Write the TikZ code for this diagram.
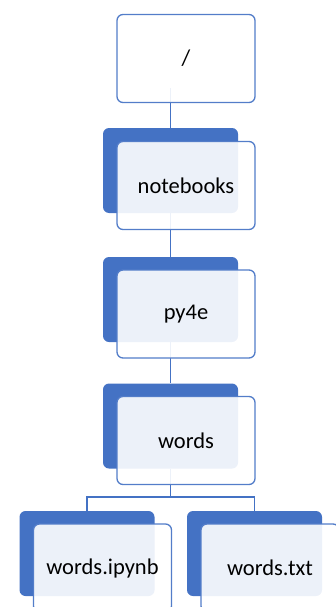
\documentclass[tikz,border=0pt]{standalone}
\usepackage{fontspec}
\setmainfont{Carlito}
\usetikzlibrary{backgrounds}
\definecolor{accent}{HTML}{4472C4}
\begin{document}
\begin{tikzpicture}[x=1pt,y=-1pt,
  back/.style={fill=accent, draw=none, rounded corners=6pt, minimum width=135pt, minimum height=85pt, inner sep=0pt},
  front/.style={draw=accent!92!white, line width=1.3pt, fill=white, fill opacity=0.9, text opacity=1,
    rounded corners=6pt, minimum width=138pt, minimum height=88pt, inner sep=0pt,
    font=\fontsize{22.5}{25}\selectfont},
  link/.style={draw=accent, line width=1.8pt}]
\useasboundingbox (0,0) rectangle (336,607);
\clip (0,0) rectangle (336,607);

% root
\coordinate (rootc) at (170.5,88);
\node[front] (root) at (186,58.5) {/};

% notebooks
\node[back] (nbback) at (170.5,170.5) {};
\node[front] (nb) at (186,185.5) {notebooks};

% py4e
\node[back] (pyback) at (170.5,299.5) {};
\node[front] (py) at (186,314) {py4e};

% words
\node[back] (wback) at (170.5,426) {};
\node[front] (w) at (186,440.5) {words};

% leaves
\node[back] (ipback) at (87,553.5) {};
\node[front] (ip) at (102.5,568) {words.ipynb};
\node[back] (txback) at (254.5,553.5) {};
\node[front] (tx) at (270,568) {words.txt};

\begin{scope}[on background layer]
  \draw[link] (rootc) -- (nbback.north);
  \draw[link] (nbback.south) -- (pyback.north);
  \draw[link] (pyback.south) -- (wback.north);
  \draw[link] (wback.south) -- ++(0,28.5) -| (ipback.north);
  \draw[link] (wback.south) -- ++(0,28.5) -| (txback.north);
\end{scope}
\end{tikzpicture}
\end{document}
